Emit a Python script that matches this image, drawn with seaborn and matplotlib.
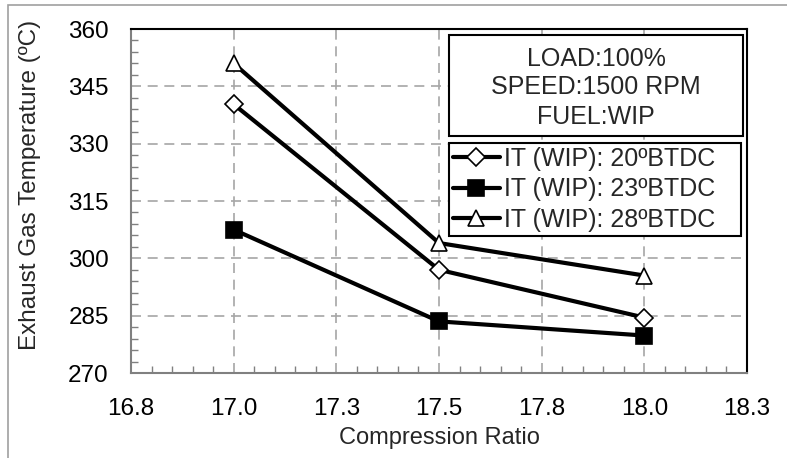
import matplotlib
matplotlib.use("Agg")
import matplotlib.pyplot as plt
from matplotlib.lines import Line2D
from matplotlib.patches import Rectangle
from matplotlib.ticker import MultipleLocator, FixedLocator
import seaborn as sns
import pandas as pd

sns.set_theme(style="white")
plt.rcParams["font.family"] = ["Liberation Sans", "DejaVu Sans"]

# Data
compression_ratio = [17.0, 17.5, 18.0]
egt_20 = [340.3, 297.0, 284.5]
egt_23 = [307.5, 283.5, 279.8]
egt_28 = [351.0, 304.0, 295.5]
series_labels = ["IT (WIP): 20ºBTDC", "IT (WIP): 23ºBTDC", "IT (WIP): 28ºBTDC"]
x_ticks = [16.75, 17.0, 17.25, 17.5, 17.75, 18.0, 18.25]
x_tick_labels = ["16.8", "17.0", "17.3", "17.5", "17.8", "18.0", "18.3"]
y_ticks = [270, 285, 300, 315, 330, 345, 360]
info_lines = ["LOAD:100%", "SPEED:1500 RPM", "FUEL:WIP"]

fig = plt.figure(figsize=(7.87, 4.58), dpi=100)
ax = fig.add_axes([131 / 787, 1 - 373 / 458, 616 / 787, 344 / 458])

styles = [
    dict(marker="D", mfc="white", ms=9),
    dict(marker="s", mfc="black", ms=11),
    dict(marker="^", mfc="white", ms=11),
]
for vals, st in zip([egt_20, egt_23, egt_28], styles):
    df = pd.DataFrame({"cr": compression_ratio, "egt": vals})
    sns.lineplot(data=df, x="cr", y="egt", ax=ax, color="black", lw=3,
                 marker=st["marker"], markersize=st["ms"],
                 markerfacecolor=st["mfc"], markeredgecolor="black",
                 markeredgewidth=1.2, zorder=3)

ax.set_xlim(16.75, 18.25)
ax.set_ylim(270, 360)
ax.xaxis.set_major_locator(FixedLocator(x_ticks))
ax.set_xticklabels(x_tick_labels)
ax.yaxis.set_major_locator(FixedLocator(y_ticks))
ax.xaxis.set_minor_locator(MultipleLocator(0.05))
ax.yaxis.set_minor_locator(MultipleLocator(3))
ax.tick_params(axis="both", which="major", length=0, labelsize=17.5,
               colors="black")
ax.tick_params(axis="x", which="major", pad=18)
ax.tick_params(axis="y", which="major", pad=16)
ax.tick_params(axis="both", which="minor", direction="in", length=5,
               width=1, color="#808080", bottom=True, left=True)

ax.grid(True, which="major", color="#a6a6a6", linestyle=(0, (6, 4)), lw=1.2)
ax.set_axisbelow(True)

for side in ["left", "bottom"]:
    ax.spines[side].set_color("#808080")
    ax.spines[side].set_linewidth(1.5)
for side in ["top", "right"]:
    ax.spines[side].set_color("black")
    ax.spines[side].set_linewidth(1.5)

ax.set_xlabel("Compression Ratio", fontsize=17, labelpad=5)
ax.set_ylabel("Exhaust Gas Temperature (ºC)", fontsize=17.5)
ax.yaxis.set_label_coords(-0.146, 0.547)

# Operating-condition box
ax.add_patch(Rectangle((0.516, 0.689), 0.478, 0.294, transform=ax.transAxes,
                       facecolor="white", edgecolor="black", lw=1.5, zorder=4))
for txt, yy in zip(info_lines, [0.914, 0.832, 0.745]):
    ax.text(0.755, yy, txt, transform=ax.transAxes, ha="center", va="center",
            fontsize=18, zorder=5)

# Legend
handles = [
    Line2D([], [], color="black", lw=3, marker=st["marker"],
           markersize=st["ms"], markerfacecolor=st["mfc"],
           markeredgecolor="black", markeredgewidth=1.2)
    for st in styles
]
leg = ax.legend(handles, series_labels, loc="upper left",
                bbox_to_anchor=(0.516, 0.409, 0.474, 0.26), mode="expand",
                fontsize=18, frameon=True, fancybox=False, framealpha=1,
                edgecolor="black", borderpad=0.15, labelspacing=0.27,
                handlelength=1.9, handletextpad=0.15, borderaxespad=0)
leg.get_frame().set_linewidth(1.5)
leg.set_zorder(5)

# Outer figure frame
fig.add_artist(Rectangle((8 / 787, -0.05), 1.1, 1 - 5 / 458 + 0.05,
                         transform=fig.transFigure, facecolor="none",
                         edgecolor="#a0a0a0", lw=1.2))

fig.savefig("out.png", dpi=100)
